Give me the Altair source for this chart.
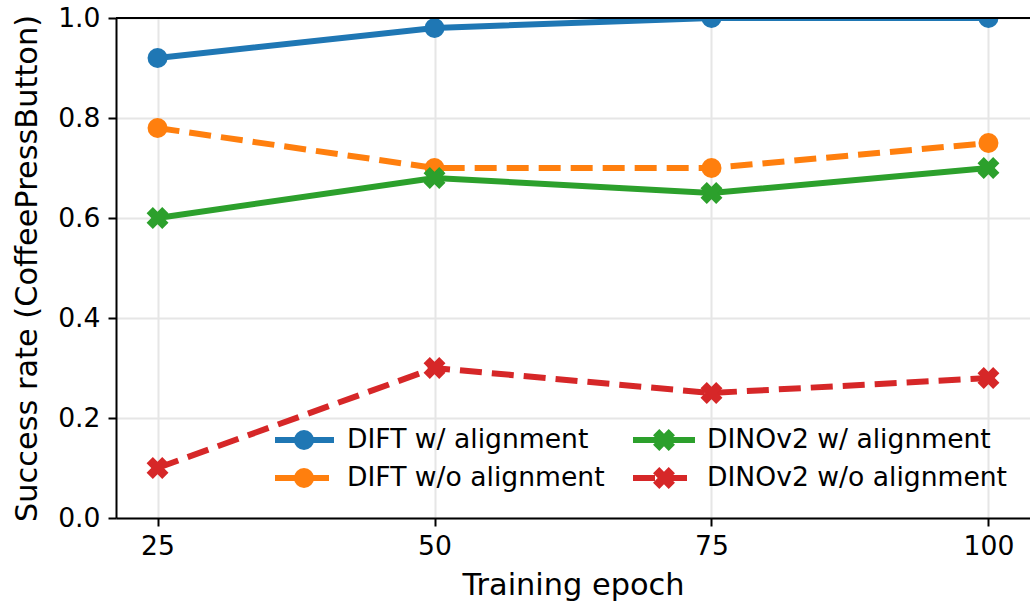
import altair as alt
import pandas as pd

epochs = [25, 50, 75, 100]
series_names = ["DIFT w/ alignment", "DIFT w/o alignment", "DINOv2 w/ alignment", "DINOv2 w/o alignment"]
dift_w = [0.92, 0.98, 1.00, 1.00]
dift_wo = [0.78, 0.70, 0.70, 0.75]
dino_w = [0.60, 0.68, 0.65, 0.70]
dino_wo = [0.10, 0.30, 0.25, 0.28]
colors = ["#1f77b4", "#ff7f0e", "#2ca02c", "#d62728"]
shapes = ["circle", "circle", "cross", "cross"]
dashed = [False, True, False, True]

values = [dift_w, dift_wo, dino_w, dino_wo]
rows = []
for name, vals in zip(series_names, values):
    for e, v in zip(epochs, vals):
        rows.append({"series": name, "epoch": e, "rate": v})
df = pd.DataFrame(rows)

W, H = 914, 500
FONT = "DejaVu Sans"
DASH = [22, 10]
LW = 6

xscale = alt.Scale(domain=[21.25, 103.75], nice=False, zero=False)
yscale = alt.Scale(domain=[0, 1], nice=False)

xaxis = alt.Axis(values=epochs, title="Training epoch", grid=True, labelFontSize=26.6,
                 titleFontSize=30.4, labelPadding=7, titleY=76, titleBaseline="alphabetic",
                 titleFontWeight="normal")
yaxis = alt.Axis(values=[0, 0.2, 0.4, 0.6, 0.8, 1.0], format=".1f", title="Success rate (CoffeePressButton)",
                 grid=True, labelFontSize=26.6, titleFontSize=30.4, labelPadding=8,
                 titleX=-80, titleY=250, titleBaseline="alphabetic", titleFontWeight="normal")

base = alt.Chart(df)
layers = []
for i, name in enumerate(series_names):
    sub = base.transform_filter(alt.datum.series == name)
    line_kw = dict(color=colors[i], strokeWidth=LW, clip=True)
    if dashed[i]:
        line_kw["strokeDash"] = DASH
    line = sub.mark_line(**line_kw).encode(
        x=alt.X("epoch:Q", scale=xscale, axis=xaxis),
        y=alt.Y("rate:Q", scale=yscale, axis=yaxis),
    )
    pt_kw = dict(color=colors[i], filled=True, opacity=1, clip=True, shape=shapes[i], strokeWidth=0)
    if shapes[i] == "circle":
        pt_kw["size"] = 400
    else:
        pt_kw["size"] = 490
        pt_kw["angle"] = 45
    pts = sub.mark_point(**pt_kw).encode(x="epoch:Q", y="rate:Q")
    layers += [line, pts]

# top spine
one = pd.DataFrame({"k": [0]})
top = alt.Chart(one).mark_rule(color="black", strokeWidth=2).encode(
    x=alt.value(0), x2=alt.value(W), y=alt.value(0))
layers.append(top)

# legend (2 columns, no frame)
col_line = [(159, 218), (517, 579)]
col_mark = [188, 548]
col_text = [231, 591]
row_y = [422, 460]
for i, name in enumerate(series_names):
    c, r = i // 2, i % 2
    lk = dict(color=colors[i], strokeWidth=LW)
    if dashed[i]:
        lk["strokeDash"] = DASH
    layers.append(alt.Chart(one).mark_rule(**lk).encode(
        x=alt.value(col_line[c][0]), x2=alt.value(col_line[c][1]), y=alt.value(row_y[r])))
    pk = dict(color=colors[i], filled=True, opacity=1, shape=shapes[i], strokeWidth=0)
    if shapes[i] == "circle":
        pk["size"] = 400
    else:
        pk["size"] = 490
        pk["angle"] = 45
    layers.append(alt.Chart(one).mark_point(**pk).encode(
        x=alt.value(col_mark[c]), y=alt.value(row_y[r])))
    layers.append(alt.Chart(one).mark_text(align="left", baseline="middle", font=FONT,
                                           fontSize=26.6, color="black").encode(
        x=alt.value(col_text[c]), y=alt.value(row_y[r]), text=alt.value(name)))

chart = alt.layer(*layers).properties(
    width=W, height=H,
    autosize=alt.AutoSizeParams(type="none"),
    padding={"left": 116, "top": 18, "right": 0, "bottom": 89},
    background="white",
).configure_view(stroke=None).configure_axis(
    labelFont=FONT, titleFont=FONT, labelColor="black", titleColor="black",
    domainColor="black", domainWidth=2, tickColor="black", tickWidth=2, tickSize=8,
    gridColor="#e6e6e6", gridWidth=2,
)

chart.save("out.html", embed_options={"renderer": "svg", "actions": False})
